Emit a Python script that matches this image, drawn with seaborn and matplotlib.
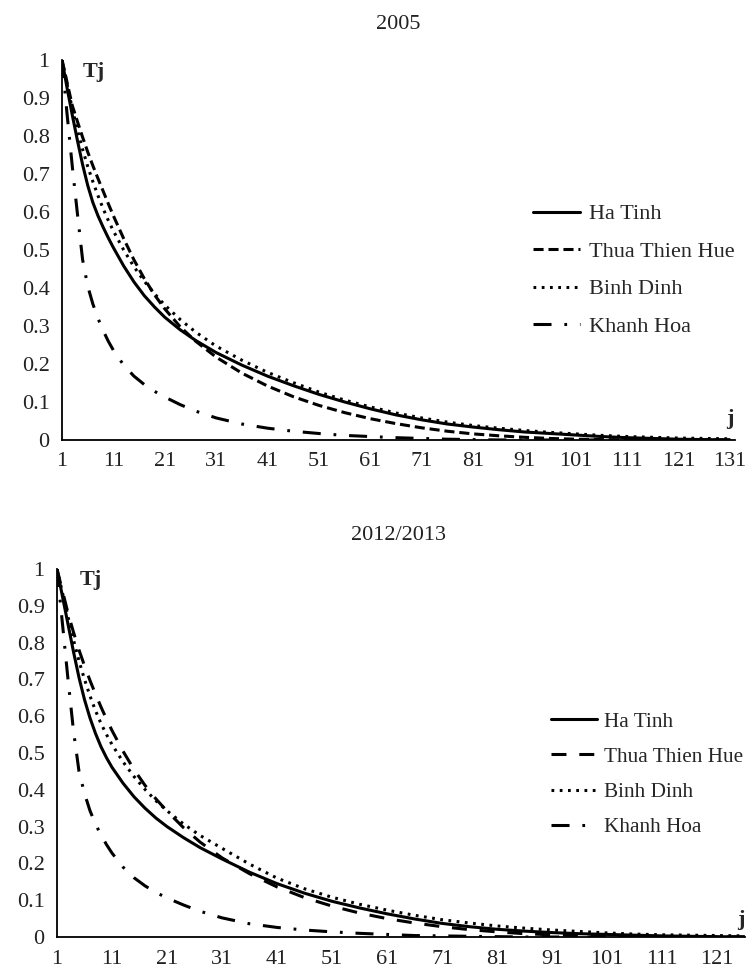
import pandas as pd
import matplotlib
matplotlib.use("Agg")
import matplotlib.pyplot as plt
import seaborn as sns

# --- data (Tj vs j) ---
provinces = ["Ha Tinh", "Thua Thien Hue", "Binh Dinh", "Khanh Hoa"]

j_2005 = [1, 2, 3, 4, 5, 6, 7, 8, 9, 10, 11, 13, 15, 17, 19, 21, 24, 27, 31, 36,
          41, 46, 51, 56, 61, 66, 71, 76, 81, 86, 91, 96, 101, 106, 111, 116, 121, 126, 131]

ha_tinh_2005 = [1.0, 0.925, 0.855, 0.788, 0.725, 0.67, 0.625, 0.59, 0.56, 0.532, 0.506, 0.458,
                0.416, 0.38, 0.35, 0.323, 0.29, 0.262, 0.23, 0.197, 0.168, 0.143, 0.12, 0.1,
                0.082, 0.066, 0.053, 0.042, 0.034, 0.027, 0.021, 0.017, 0.013, 0.009, 0.006,
                0.004, 0.002, 0.001, 0.0]
thua_thien_hue_2005 = [1.0, 0.94, 0.88, 0.838, 0.797, 0.758, 0.722, 0.688, 0.655, 0.622, 0.59,
                       0.53, 0.474, 0.425, 0.382, 0.345, 0.298, 0.26, 0.218, 0.176, 0.142,
                       0.114, 0.091, 0.072, 0.056, 0.043, 0.032, 0.023, 0.016, 0.011, 0.007,
                       0.004, 0.002, 0.001, 0.0, 0.0, 0.0, 0.0, 0.0]
binh_dinh_2005 = [1.0, 0.935, 0.872, 0.815, 0.765, 0.72, 0.68, 0.643, 0.609, 0.578, 0.55, 0.5,
                  0.456, 0.418, 0.385, 0.355, 0.317, 0.284, 0.247, 0.21, 0.178, 0.151, 0.126,
                  0.105, 0.087, 0.071, 0.058, 0.047, 0.038, 0.031, 0.025, 0.02, 0.016, 0.012,
                  0.009, 0.007, 0.005, 0.004, 0.003]
khanh_hoa_2005 = [1.0, 0.855, 0.72, 0.595, 0.475, 0.405, 0.358, 0.32, 0.288, 0.26, 0.236, 0.197,
                  0.168, 0.146, 0.128, 0.113, 0.093, 0.076, 0.058, 0.042, 0.031, 0.023, 0.017,
                  0.012, 0.009, 0.006, 0.004, 0.002, 0.001, 0.0, 0.0, 0.0, 0.0, 0.0, 0.0, 0.0,
                  0.0, 0.0, 0.0]

j_2012 = [1, 2, 3, 4, 5, 6, 7, 8, 9, 10, 11, 13, 15, 17, 19, 21, 24, 27, 31, 36,
          41, 46, 51, 56, 61, 66, 71, 76, 81, 86, 91, 96, 101, 106, 111, 116, 121, 126]

ha_tinh_2012 = [1.0, 0.925, 0.85, 0.775, 0.705, 0.645, 0.595, 0.553, 0.517, 0.487, 0.461, 0.418,
                0.381, 0.35, 0.323, 0.3, 0.27, 0.243, 0.212, 0.176, 0.145, 0.119, 0.097, 0.079,
                0.063, 0.049, 0.037, 0.028, 0.021, 0.016, 0.012, 0.009, 0.007, 0.005, 0.003,
                0.002, 0.001, 0.0]
thua_thien_hue_2012 = [1.0, 0.94, 0.88, 0.828, 0.78, 0.737, 0.697, 0.66, 0.625, 0.592, 0.561,
                       0.505, 0.455, 0.412, 0.375, 0.342, 0.297, 0.258, 0.215, 0.172, 0.136,
                       0.107, 0.084, 0.065, 0.05, 0.038, 0.028, 0.02, 0.014, 0.009, 0.006,
                       0.004, 0.002, 0.001, 0.0, 0.0, 0.0, 0.0]
binh_dinh_2012 = [1.0, 0.935, 0.87, 0.807, 0.75, 0.7, 0.655, 0.615, 0.58, 0.55, 0.523, 0.476,
                  0.436, 0.401, 0.37, 0.343, 0.307, 0.276, 0.241, 0.198, 0.16, 0.131, 0.108,
                  0.089, 0.073, 0.059, 0.047, 0.038, 0.03, 0.024, 0.019, 0.015, 0.011, 0.008,
                  0.006, 0.005, 0.004, 0.003]
khanh_hoa_2012 = [1.0, 0.85, 0.70, 0.56, 0.45, 0.39, 0.343, 0.307, 0.277, 0.251, 0.228, 0.19,
                  0.161, 0.139, 0.121, 0.106, 0.087, 0.07, 0.052, 0.036, 0.026, 0.019, 0.014,
                  0.01, 0.007, 0.004, 0.003, 0.002, 0.001, 0.0, 0.0, 0.0, 0.0, 0.0, 0.0, 0.0,
                  0.0, 0.0]

y_ticks = [0, 0.1, 0.2, 0.3, 0.4, 0.5, 0.6, 0.7, 0.8, 0.9, 1]
y_tick_labels = ["0", "0.1", "0.2", "0.3", "0.4", "0.5", "0.6", "0.7", "0.8", "0.9", "1"]
x_ticks_2005 = list(range(1, 132, 10))
x_ticks_2012 = list(range(1, 122, 10))

# --- style ---
sns.set_style("white")
plt.rcParams["font.family"] = ["Liberation Serif", "DejaVu Serif"]
FS = 16
LW = 2.2

fig = plt.figure(figsize=(7.5, 9.71), dpi=100)
ax1 = fig.add_axes([0.0827, 0.5469, 0.8973, 0.3913])
ax2 = fig.add_axes([0.076, 0.035, 0.917, 0.379])


def draw(ax, j, series, styles, xmax, xticks):
    for name, vals, ls in zip(provinces, series, styles):
        sns.lineplot(x=j, y=vals, ax=ax, color="black", linewidth=LW,
                     linestyle=ls, label=name, estimator=None)
    ax.set_xlim(1, xmax)
    ax.set_ylim(0, 1)
    ax.set_xticks(xticks)
    ax.set_xticklabels([str(t) for t in xticks], fontsize=FS)
    ax.set_yticks(y_ticks)
    ax.set_yticklabels(y_tick_labels, fontsize=FS)
    ax.set_xlabel("")
    ax.set_ylabel("")
    for s in ["top", "right"]:
        ax.spines[s].set_visible(False)
    for s in ["left", "bottom"]:
        ax.spines[s].set_color("black")
        ax.spines[s].set_linewidth(1.3)
    ax.tick_params(axis="both", direction="out", length=5, width=1.2,
                   color="black", labelcolor="#222222", pad=4)


styles_2005 = ["-", (0, (3.3, 1.6)), (0, (0.9, 1.8)), (0, (5.9, 4.2, 0.9, 4.2))]
styles_2012 = ["-", (0, (4.9, 4.2)), (0, (0.9, 1.8)), (0, (5.9, 4.2, 0.9, 4.2))]

draw(ax1, j_2005, [ha_tinh_2005, thua_thien_hue_2005, binh_dinh_2005, khanh_hoa_2005],
     styles_2005, 132, x_ticks_2005)
draw(ax2, j_2012, [ha_tinh_2012, thua_thien_hue_2012, binh_dinh_2012, khanh_hoa_2012],
     styles_2012, 126, x_ticks_2012)

# legends
ax1.legend(loc="upper left", bbox_to_anchor=(0.711, 0.790), bbox_transform=fig.transFigure,
           frameon=False, fontsize=FS, handlelength=2.12, handletextpad=0.4,
           labelspacing=0.76, borderpad=0, borderaxespad=0)
ax2.legend(loc="upper left", bbox_to_anchor=(0.734, 0.267), bbox_transform=fig.transFigure,
           frameon=False, fontsize=15.3, handlelength=2.2, handletextpad=0.3,
           labelspacing=0.72, borderpad=0, borderaxespad=0)

# axis annotations
ax1.text(0.03, 0.995, "Tj", transform=ax1.transAxes, fontsize=FS, fontweight="bold",
         ha="left", va="top")
ax2.text(0.033, 0.997, "Tj", transform=ax2.transAxes, fontsize=FS, fontweight="bold",
         ha="left", va="top")
ax1.text(131.8, 0.03, "j", fontsize=FS, fontweight="bold", ha="right", va="bottom")
ax2.text(126, 0.02, "j", fontsize=FS, fontweight="bold", ha="right", va="bottom", clip_on=False)

# titles
fig.text(0.531, 0.975, "2005", ha="center", va="center", fontsize=FS, color="#222222")
fig.text(0.531, 0.448, "2012/2013", ha="center", va="center", fontsize=FS, color="#222222")

fig.savefig("out.png", dpi=100)
plt.close(fig)
